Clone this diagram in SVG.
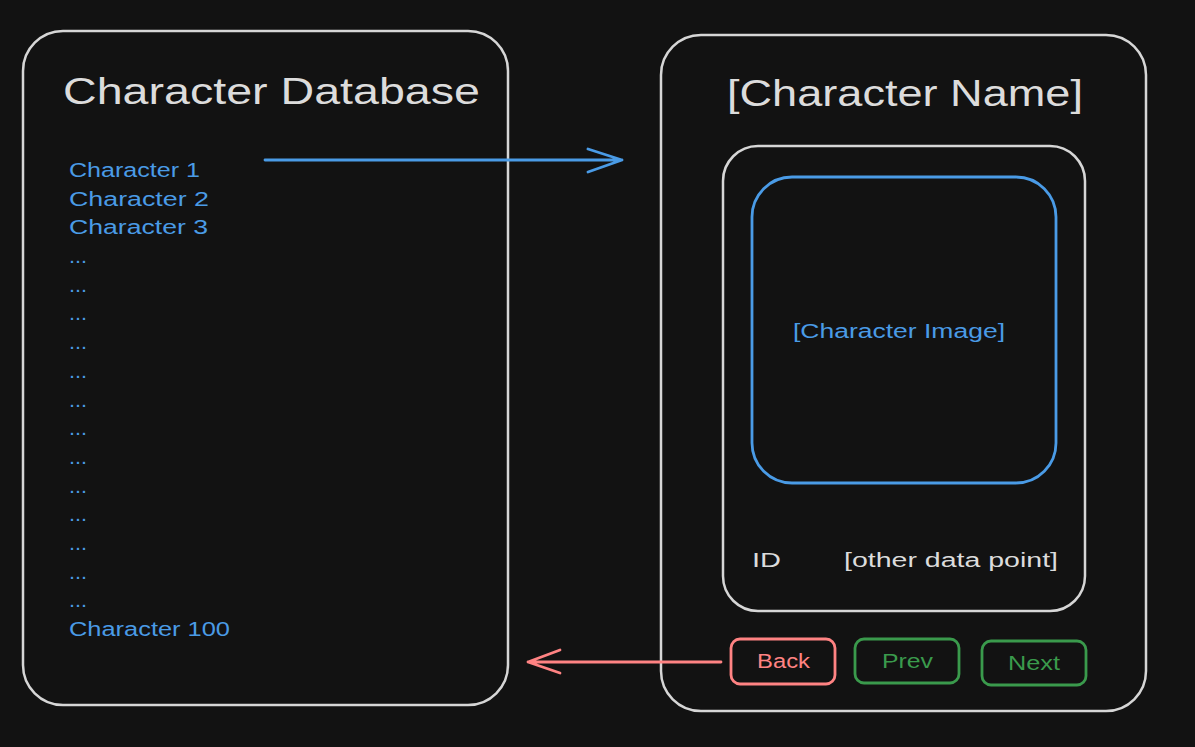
<svg xmlns="http://www.w3.org/2000/svg" width="1195" height="747" viewBox="0 0 1195 747">
<style>
.bg{fill:#121212}
.box{fill:none;stroke:#d6d6d6;stroke-width:2.5}
.blue{fill:none;stroke:#4a9be6;stroke-width:2.8}
.red{fill:none;stroke:#ff8383;stroke-width:2.8}
.green{fill:none;stroke:#3a9a4c;stroke-width:2.8}
text{font-family:"Liberation Sans","DejaVu Sans",sans-serif}
.title{fill:#dcdcdc;font-size:36px}
.item{fill:#4a9be6;font-size:20px}
.wt{fill:#dcdcdc;font-size:20px}
.rt{fill:#ff8383;font-size:20px}
.gt{fill:#3a9a4c;font-size:20px}
.line-b{fill:none;stroke:#4a9be6;stroke-width:2.8;stroke-linecap:round;stroke-linejoin:round}
.line-r{fill:none;stroke:#ff8383;stroke-width:2.8;stroke-linecap:round;stroke-linejoin:round}
</style>
<rect class="bg" x="0" y="0" width="1195" height="747"/>
<g id="database">
<rect class="box" x="23" y="31" width="485" height="674" rx="40"/>
<text class="title" x="63" y="104" textLength="417" lengthAdjust="spacingAndGlyphs">Character Database</text>
<text class="item" x="69" y="177" textLength="131" lengthAdjust="spacingAndGlyphs">Character 1</text>
<text class="item" x="69" y="206" textLength="140" lengthAdjust="spacingAndGlyphs">Character 2</text>
<text class="item" x="69" y="234" textLength="139" lengthAdjust="spacingAndGlyphs">Character 3</text>
<text class="item" x="69" y="263" textLength="18" lengthAdjust="spacingAndGlyphs">...</text>
<text class="item" x="69" y="292" textLength="18" lengthAdjust="spacingAndGlyphs">...</text>
<text class="item" x="69" y="320" textLength="18" lengthAdjust="spacingAndGlyphs">...</text>
<text class="item" x="69" y="349" textLength="18" lengthAdjust="spacingAndGlyphs">...</text>
<text class="item" x="69" y="378" textLength="18" lengthAdjust="spacingAndGlyphs">...</text>
<text class="item" x="69" y="407" textLength="18" lengthAdjust="spacingAndGlyphs">...</text>
<text class="item" x="69" y="435" textLength="18" lengthAdjust="spacingAndGlyphs">...</text>
<text class="item" x="69" y="464" textLength="18" lengthAdjust="spacingAndGlyphs">...</text>
<text class="item" x="69" y="493" textLength="18" lengthAdjust="spacingAndGlyphs">...</text>
<text class="item" x="69" y="521" textLength="18" lengthAdjust="spacingAndGlyphs">...</text>
<text class="item" x="69" y="550" textLength="18" lengthAdjust="spacingAndGlyphs">...</text>
<text class="item" x="69" y="579" textLength="18" lengthAdjust="spacingAndGlyphs">...</text>
<text class="item" x="69" y="607" textLength="18" lengthAdjust="spacingAndGlyphs">...</text>
<text class="item" x="69" y="636" textLength="161" lengthAdjust="spacingAndGlyphs">Character 100</text>
</g>
<g id="detail">
<rect class="box" x="661" y="35" width="485" height="676" rx="40"/>
<text class="title" x="727" y="106" textLength="356" lengthAdjust="spacingAndGlyphs">[Character Name]</text>
</g>
<g id="card">
<rect class="box" x="723" y="146" width="362" height="465" rx="35"/>
<text class="wt" x="752" y="567" textLength="29" lengthAdjust="spacingAndGlyphs">ID</text>
<text class="wt" x="844" y="567" textLength="214" lengthAdjust="spacingAndGlyphs">[other data point]</text>
</g>
<g id="image">
<rect class="blue" x="752" y="177" width="304" height="306" rx="40"/>
<text class="item" x="793" y="338" textLength="212" lengthAdjust="spacingAndGlyphs">[Character Image]</text>
</g>
<g id="back">
<rect class="red" x="731" y="639" width="104" height="45" rx="9"/>
<text class="rt" x="757" y="668" textLength="53" lengthAdjust="spacingAndGlyphs">Back</text>
</g>
<g id="prev">
<rect class="green" x="855" y="639" width="104" height="44" rx="9"/>
<text class="gt" x="882" y="668" textLength="51" lengthAdjust="spacingAndGlyphs">Prev</text>
</g>
<g id="next">
<rect class="green" x="982" y="641" width="104" height="44" rx="9"/>
<text class="gt" x="1008" y="670" textLength="52" lengthAdjust="spacingAndGlyphs">Next</text>
</g>
<g id="connectors">
<path class="line-b" d="M265 160 L622 160 M588 149 L622 160 L588 172"/>
<path class="line-r" d="M721 662 L528 662 M560 650 L528 662 L560 673"/>
</g>
</svg>
